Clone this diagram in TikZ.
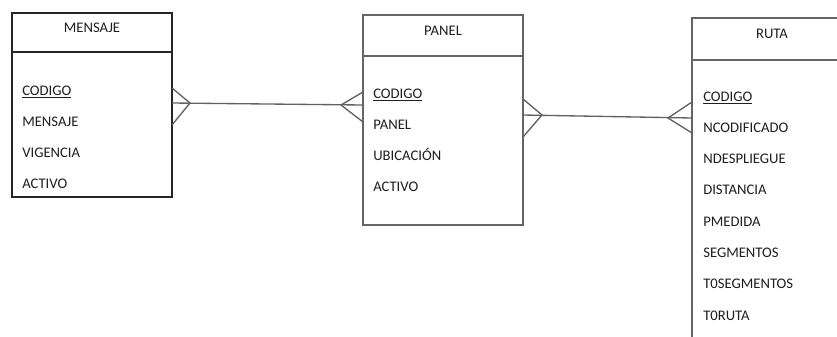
\documentclass[tikz,border=0pt]{standalone}
\usepackage{fontspec}
\setmainfont{Carlito}
\usepackage{tikz}
\usetikzlibrary{calc, positioning}

\definecolor{erInk}{gray}{0.12}
\definecolor{erLine}{gray}{0.38}

\tikzset{
  entity/.style={draw=#1, line width=1.1pt, minimum width=120pt, inner sep=0pt, outer sep=0pt},
  divider/.style={draw=#1, line width=1.1pt},
  heading/.style={anchor=base, inner sep=0pt, text=erInk, font=\fontsize{11}{13}\selectfont},
  field/.style={anchor=base west, inner sep=0pt, text=erInk, font=\fontsize{11}{13}\selectfont},
  link/.style={draw=erLine, line width=1pt},
}

% crow's foot on a border point: #1 point, #2 junction offset, #3 upper prong, #4 lower prong
\providecommand{\CrowFoot}[4]{%
  \draw[link] ($ (#1)+(0,#3) $) -- ($ (#1)+(#2,0) $) -- ($ (#1)+(0,#4) $);
}

\begin{document}
\begin{tikzpicture}[x=0.75pt, y=-0.75pt]

	\fill[white] (0,0) rectangle (837,336);
	\useasboundingbox (0,0) rectangle (837,336);
	\clip (0,0) rectangle (837,336);

	% entities
	\node[entity=black!85, minimum height=138pt] (mensaje) at (92,105) {};
	\node[entity=black!60, minimum height=157.5pt] (panel) at (443,120) {};
	\node[entity=black!60, minimum height=246pt] (ruta) at (772,182) {};

	\draw[divider=black!85] ($ (mensaje.north west)+(0,39) $) -- ($ (mensaje.north east)+(0,39) $);
	\draw[divider=black!60] ($ (panel.north west)+(0,41) $) -- ($ (panel.north east)+(0,41) $);
	\draw[divider=black!60] ($ (ruta.north west)+(0,42) $) -- ($ (ruta.north east)+(0,42) $);

	\node[heading] (mensajeT) at ($ (mensaje.north)+(0,19) $) {MENSAJE};
	\node[heading] (panelT) at ($ (panel.north)+(0,20) $) {PANEL};
	\node[heading] (rutaT) at ($ (ruta.north)+(0,20) $) {RUTA};

	% attributes
	\foreach \f [count=\i from 0] in {\underline{CODIGO}, MENSAJE, VIGENCIA, ACTIVO}
		\node[field] (mensaje-\i) at ($ (mensaje.north west)+(10,82+31*\i) $) {\f};
	\foreach \f [count=\i from 0] in {\underline{CODIGO}, PANEL, UBICACIÓN, ACTIVO}
		\node[field] (panel-\i) at ($ (panel.north west)+(10,83+31*\i) $) {\f};
	\foreach \f [count=\i from 0] in {\underline{CODIGO}, NCODIFICADO, NDESPLIEGUE, DISTANCIA, PMEDIDA, SEGMENTOS, T0SEGMENTOS, T0RUTA}
		\node[field] (ruta-\i) at ($ (ruta.north west)+(11,83+31.3*\i) $) {\f};

	% relationships
	\coordinate (mensajeR) at (mensaje.east |- 0,103);
	\coordinate (panelL) at (panel.west |- 0,105);
	\coordinate (panelR) at (panel.east |- 0,115);
	\coordinate (rutaL) at (ruta.west |- 0,118);

	\draw[link] (mensajeR) -- (panelL);
	\draw[link] (panelR) -- (rutaL);

	\CrowFoot{mensajeR}{18}{-15}{22}
	\CrowFoot{panelL}{-22}{-13}{17}
	\CrowFoot{panelR}{19}{-16}{22}
	\CrowFoot{rutaL}{-24}{-16}{15}

\end{tikzpicture}
\end{document}
